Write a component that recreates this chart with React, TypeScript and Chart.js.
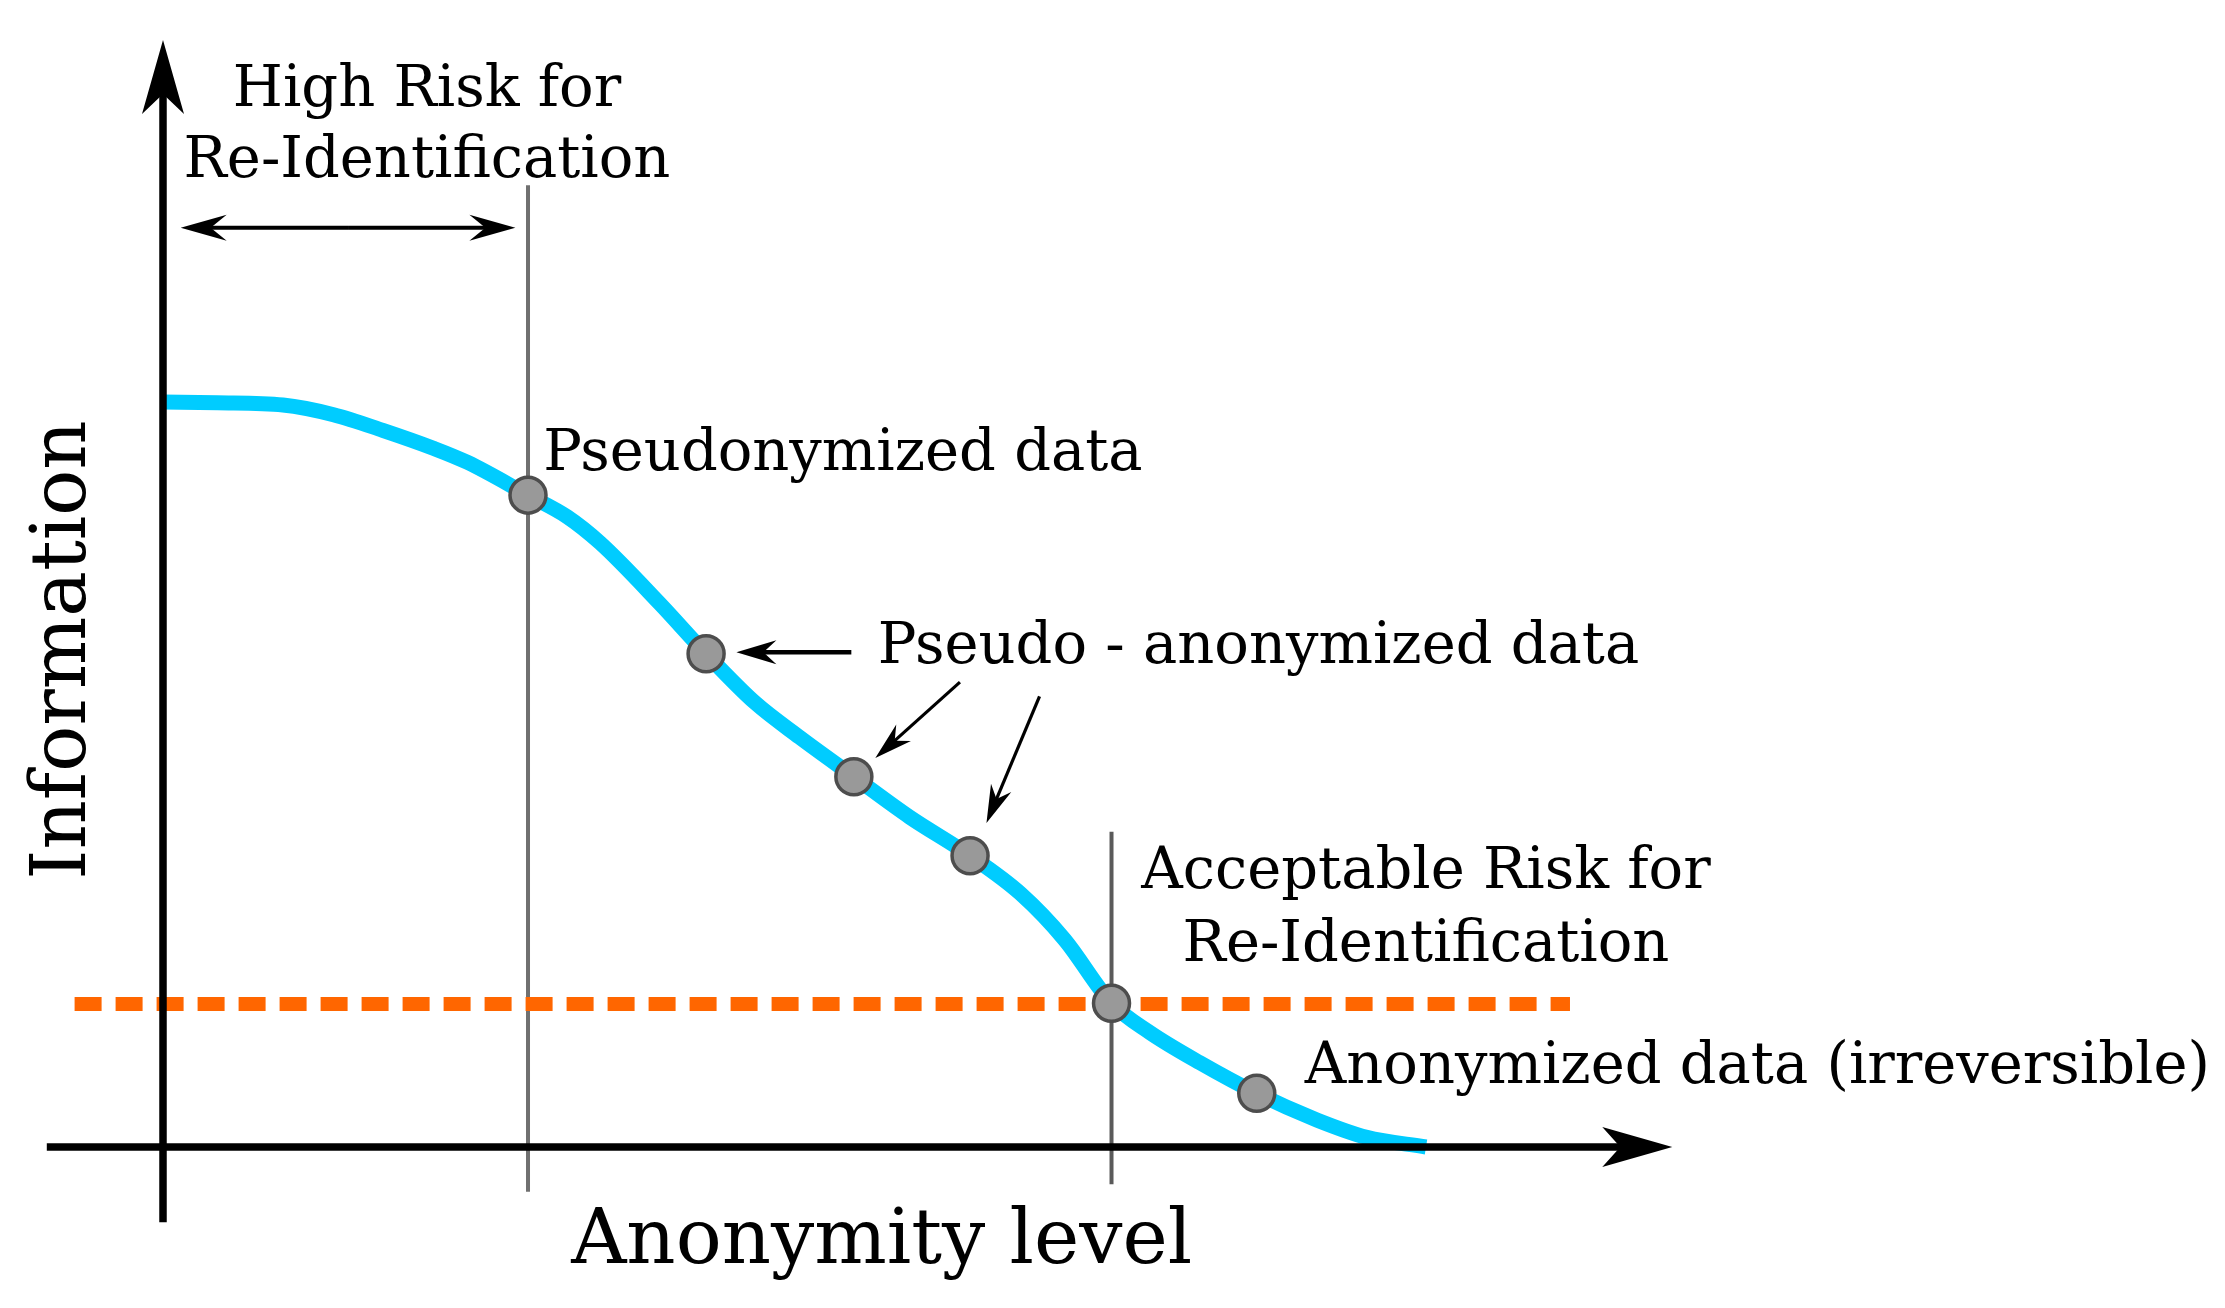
import React, { useEffect, useRef } from "react";
import { Chart, registerables } from "chart.js";

Chart.register(...registerables);

// Curve: information retained vs. anonymity level (abstract units)
const curveX = [0, 0.43, 0.95, 1.35, 1.74, 2.14, 2.41, 2.89, 3.2, 3.46, 3.93, 4.3, 4.69, 5.04, 5.47, 5.91, 6.39, 6.79, 7.14, 7.51, 7.81, 8.21, 8.66, 9.14, 9.53, 10.0];
const curveY = [10.0, 9.99, 9.96, 9.83, 9.62, 9.38, 9.19, 8.75, 8.46, 8.11, 7.3, 6.62, 5.96, 5.5, 4.97, 4.43, 3.91, 3.4, 2.78, 1.93, 1.54, 1.13, 0.72, 0.36, 0.13, 0];

// Highlighted data states on the curve
const markerX = [2.89, 4.3, 5.47, 6.39, 7.51, 8.66];
const markerY = [8.75, 6.62, 4.97, 3.91, 1.93, 0.72];

// Reference lines
const acceptableLevel = 1.92;
const thresholdStart = -0.7;
const thresholdEnd = 11.14;
const highRiskBoundary = 2.89;
const highRiskLineRange = [-0.6, 12.91];
const acceptableBoundary = 7.51;
const acceptableLineRange = [-0.5, 4.23];

// Axis extents
const xAxisRange = [-0.92, 11.95];
const yAxisRange = [-1.01, 14.86];

// Labels
const axisTitleX = "Anonymity level";
const axisTitleY = "Information";
const highRiskLabel = ["High Risk for", "Re-Identification"];
const acceptableLabel = ["Acceptable Risk for", "Re-Identification"];
const pseudonymizedLabel = "Pseudonymized data";
const pseudoAnonLabel = "Pseudo - anonymized data";
const anonymizedLabel = "Anonymized data (irreversible)";

const W = 2209;
const H = 1292;

function arrow(
  ctx: CanvasRenderingContext2D,
  x1: number, y1: number, x2: number, y2: number,
  lw: number, headLen: number, half: number, notch: number
) {
  const dx = x2 - x1, dy = y2 - y1;
  const len = Math.hypot(dx, dy);
  const ux = dx / len, uy = dy / len;
  const nx = -uy, ny = ux;
  const bx = x2 - ux * headLen, by = y2 - uy * headLen;
  const kx = x2 - ux * notch, ky = y2 - uy * notch;
  ctx.save();
  ctx.strokeStyle = "#000";
  ctx.fillStyle = "#000";
  ctx.lineWidth = lw;
  ctx.lineCap = "butt";
  ctx.beginPath();
  ctx.moveTo(x1, y1);
  ctx.lineTo(kx + ux * 1, ky + uy * 1);
  ctx.stroke();
  ctx.beginPath();
  ctx.moveTo(x2, y2);
  ctx.lineTo(bx + nx * half, by + ny * half);
  ctx.lineTo(kx, ky);
  ctx.lineTo(bx - nx * half, by - ny * half);
  ctx.closePath();
  ctx.fill();
  ctx.restore();
}

const overlay = {
  id: "overlay",
  afterDatasetsDraw(chart: any) {
    const ctx: CanvasRenderingContext2D = chart.ctx;
    const xs = chart.scales.x;
    const ys = chart.scales.y;
    const px = (v: number) => xs.getPixelForValue(v);
    const py = (v: number) => ys.getPixelForValue(v);

    // Axes with arrowheads
    arrow(ctx, px(0), py(yAxisRange[0]), px(0), py(yAxisRange[1]), 7.5, 74, 21, 54);
    arrow(ctx, px(xAxisRange[0]), py(0), px(xAxisRange[1]), py(0), 7.5, 70, 20, 52);

    // Double arrow for high-risk range
    const dy = py(12.34);
    const xa = px(0.14), xb = px(2.79);
    const mid = (xa + xb) / 2;
    arrow(ctx, mid, dy, xa, dy, 4, 46, 13, 30);
    arrow(ctx, mid, dy, xb, dy, 4, 46, 13, 30);

    // Pointer arrows
    arrow(ctx, px(5.45), py(6.64), px(4.54), py(6.64), 4.5, 40, 12, 27);
    arrow(ctx, px(6.31), py(6.24), px(5.64), py(5.22), 3.2, 38, 11, 26);
    arrow(ctx, px(6.94), py(6.05), px(6.52), py(4.35), 3.2, 38, 11, 26);

    // Texts
    ctx.save();
    ctx.fillStyle = "#000";
    ctx.textBaseline = "alphabetic";
    ctx.font = '57.5px "DejaVu Serif"';
    ctx.textAlign = "center";
    ctx.fillText(highRiskLabel[0], px(2.09), py(13.97));
    ctx.fillText(highRiskLabel[1], px(2.09), py(13.02));
    ctx.fillText(acceptableLabel[0], px(10.0), py(3.48));
    ctx.fillText(acceptableLabel[1], px(10.0), py(2.5));
    ctx.textAlign = "left";
    ctx.fillText(pseudonymizedLabel, px(3.01), py(9.09));
    ctx.fillText(pseudoAnonLabel, px(5.66), py(6.5));
    ctx.fillText(anonymizedLabel, px(9.04), py(0.86));

    ctx.font = '76.5px "DejaVu Serif"';
    ctx.textAlign = "center";
    ctx.fillText(axisTitleX, px(5.69), py(-1.56));
    ctx.translate(px(-0.62), py(6.67));
    ctx.rotate(-Math.PI / 2);
    ctx.fillText(axisTitleY, 0, 0);
    ctx.restore();
  },
};

export default function App() {
  const ref = useRef<HTMLCanvasElement | null>(null);

  useEffect(() => {
    if (!ref.current) return;
    const x0 = 163, y0 = 1147 - 8, sx = 126.3, sy = 74.5;
    const xMin = (0 - (x0 - 8)) / sx;
    const xMax = (W - (x0 - 8)) / sx;
    const yMax = y0 / sy;
    const yMin = (y0 - H) / sy;

    const chart = new Chart(ref.current, {
      type: "line",
      data: {
        datasets: [
          {
            label: "States",
            data: markerX.map((x, i) => ({ x, y: markerY[i] })),
            showLine: false,
            pointRadius: 18,
            pointBackgroundColor: "#999999",
            pointBorderColor: "#4d4d4d",
            pointBorderWidth: 3.5,
            order: 0,
          } as any,
          {
            label: "Acceptable level",
            data: [
              { x: thresholdStart, y: acceptableLevel },
              { x: thresholdEnd, y: acceptableLevel },
            ],
            borderColor: "#FF6600",
            borderWidth: 14,
            borderDash: [27, 14],
            borderCapStyle: "butt",
            pointRadius: 0,
            order: 1,
          },
          {
            label: "High risk boundary",
            data: [
              { x: highRiskBoundary, y: highRiskLineRange[0] },
              { x: highRiskBoundary, y: highRiskLineRange[1] },
            ],
            borderColor: "#707070",
            borderWidth: 4,
            pointRadius: 0,
            order: 2,
          },
          {
            label: "Acceptable boundary",
            data: [
              { x: acceptableBoundary, y: acceptableLineRange[0] },
              { x: acceptableBoundary, y: acceptableLineRange[1] },
            ],
            borderColor: "#5a5a5a",
            borderWidth: 4,
            pointRadius: 0,
            order: 2,
          },
          {
            label: "Information",
            data: curveX.map((x, i) => ({ x, y: curveY[i] })),
            borderColor: "#00CCFF",
            borderWidth: 15,
            borderCapStyle: "butt",
            borderJoinStyle: "round",
            cubicInterpolationMode: "monotone",
            pointRadius: 0,
            order: 3,
          },
        ],
      },
      options: {
        responsive: false,
        maintainAspectRatio: false,
        devicePixelRatio: 1,
        animation: false,
        events: [],
        layout: { padding: 0, autoPadding: false },
        plugins: { legend: { display: false }, tooltip: { enabled: false } },
        scales: {
          x: { type: "linear", min: xMin, max: xMax, display: false },
          y: { type: "linear", min: yMin, max: yMax, display: false },
        },
      },
      plugins: [overlay],
    });
    return () => chart.destroy();
  }, []);

  return (
    <div style={{ width: W, height: H }}>
      <canvas ref={ref} width={W} height={H} style={{ display: "block" }} />
    </div>
  );
}
